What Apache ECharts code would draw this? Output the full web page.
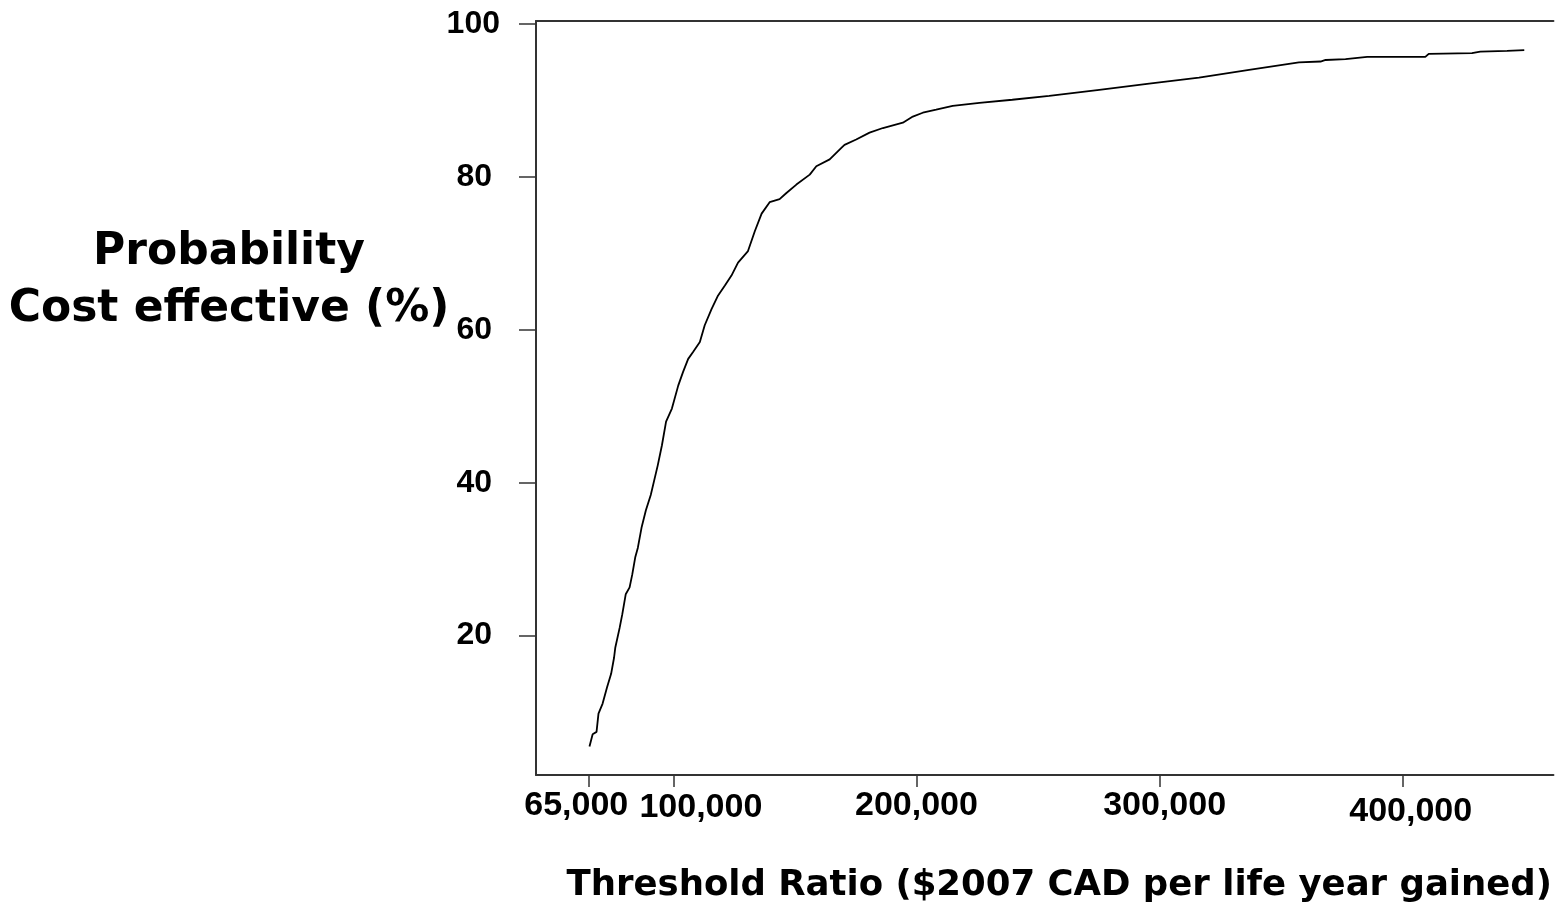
<!DOCTYPE html>
<html>
<head>
<meta charset="utf-8">
<script src="https://cdn.jsdelivr.net/npm/echarts@6/dist/echarts.min.js"></script>
<style>
  html, body { margin: 0; padding: 0; background: #ffffff; }
  #chart { width: 1555px; height: 909px; }
</style>
</head>
<body>
<div id="chart"></div>
<script>
// ---- data ----
const thresholds = [
  65500, 66800, 68400, 69200, 70900, 72700, 74400, 75600, 76100, 77900,
  79000, 80400, 82000, 83100, 84300, 85400, 86900, 88700, 90700, 93600,
  95300, 97000, 99400, 102000, 104000, 106100, 108100, 110900, 112900, 115700,
  118400, 121200, 123900, 126600, 130700, 133500, 136300, 139600, 143700, 146500,
  150600, 156100, 158800, 164300, 169100, 170400, 175200, 180700, 186200, 194400,
  198500, 202600, 208100, 214900, 225900, 239400, 254600, 275200, 295700, 316200,
  336800, 357300, 366200, 368300, 376500, 385400, 409300, 410700, 428500, 431900,
  442900, 443500, 450000
];
const probability = [
  5.5, 7.1, 7.4, 9.8, 11.1, 13.2, 15.0, 17.1, 18.4, 21.0,
  22.8, 25.4, 26.3, 28.0, 30.2, 31.5, 34.1, 36.4, 38.4, 42.3,
  44.9, 48.0, 49.7, 52.7, 54.5, 56.2, 57.1, 58.4, 60.6, 62.7,
  64.5, 65.8, 67.1, 68.8, 70.3, 72.9, 75.2, 76.7, 77.1, 77.9,
  79.0, 80.3, 81.4, 82.3, 83.8, 84.2, 84.9, 85.8, 86.4, 87.1,
  87.9, 88.4, 88.8, 89.3, 89.7, 90.1, 90.6, 91.4, 92.2, 93.0,
  94.0, 95.0, 95.1, 95.3, 95.4, 95.7, 95.7, 96.1, 96.2, 96.4,
  96.5, 96.6, 96.6
];
const xTickValues = [65000, 100000, 200000, 300000, 400000];
const xTickLabels = ['65,000', '100,000', '200,000', '300,000', '400,000'];
const yTickValues = [20, 40, 60, 80, 100];
const yTickLabels = ['20', '40', '60', '80', '100'];
const xTitle = 'Threshold Ratio ($2007 CAD per life year gained)';
const yTitle = 'Probability\nCost effective (%)';

// ---- chart ----
const seriesData = thresholds.map((t, i) => [t, probability[i]]);
const chart = echarts.init(document.getElementById('chart'), null, { renderer: 'canvas' });

const axisColor = '#333333';
const tickFont = '"Liberation Sans", Arial, sans-serif';

const xRich = {
  l0: { padding: [0, 24, 0, 0] },
  l1: { padding: [2, 0, 0, 55] },
  l2: { padding: [0, 0, 0, 0] },
  l3: { padding: [0, 0, 0, 10] },
  l4: { padding: [6, 0, 0, 16] }
};
Object.values(xRich).forEach(s => {
  s.fontFamily = tickFont; s.fontWeight = 'bold'; s.fontSize = 34; s.color = '#000';
});
const yRich = {
  n: { padding: [0, 8, 0, 0], fontFamily: tickFont, fontWeight: 'bold', fontSize: 32, color: '#000' },
  t: { padding: [0, 0, 0, 0], fontFamily: tickFont, fontWeight: 'bold', fontSize: 32, color: '#000' }
};

const option = {
  animation: false,
  backgroundColor: '#ffffff',
  grid: { left: 536, right: 0, top: 21, bottom: 131, containLabel: false },
  xAxis: [
    {
      type: 'value',
      min: 43500,
      max: 462000,
      position: 'bottom',
      name: xTitle,
      nameLocation: 'middle',
      nameGap: 93,
      nameTextStyle: {
        fontFamily: '"DejaVu Sans", Verdana, sans-serif',
        fontWeight: 'bold',
        fontSize: 35.5,
        color: '#000',
        padding: [0, 0, 0, 29]
      },
      axisLine: { show: true, lineStyle: { color: axisColor, width: 2 } },
      axisTick: { show: true, length: 12, lineStyle: { color: axisColor, width: 1.5 }, customValues: xTickValues },
      axisLabel: {
        margin: 14,
        customValues: xTickValues,
        formatter: function (v) {
          const i = xTickValues.indexOf(v);
          return i < 0 ? '' : '{l' + i + '|' + xTickLabels[i] + '}';
        },
        rich: xRich
      },
      splitLine: { show: false }
    },
    {
      type: 'value',
      min: 43500,
      max: 462000,
      position: 'top',
      axisLine: { show: true, lineStyle: { color: axisColor, width: 2 } },
      axisTick: { show: false },
      axisLabel: { show: false },
      splitLine: { show: false }
    }
  ],
  yAxis: {
    type: 'value',
    min: 1.76,
    max: 100.4,
    axisLine: { show: true, lineStyle: { color: axisColor, width: 2 } },
    axisTick: { show: true, length: 17, lineStyle: { color: axisColor, width: 1.5 }, customValues: yTickValues },
    axisLabel: {
      margin: 36,
      customValues: yTickValues,
      formatter: function (v) {
        const i = yTickValues.indexOf(v);
        if (i < 0) return '';
        return (v === 100 ? '{t|' : '{n|') + yTickLabels[i] + '}';
      },
      rich: yRich
    },
    splitLine: { show: false }
  },
  graphic: [
    {
      type: 'text',
      x: 229,
      y: 224,
      style: {
        text: yTitle,
        font: 'bold 44px "DejaVu Sans", Verdana, sans-serif',
        lineHeight: 57,
        align: 'center',
        verticalAlign: 'top',
        fill: '#000'
      }
    }
  ],
  series: [
    {
      type: 'line',
      xAxisIndex: 0,
      data: seriesData,
      showSymbol: false,
      symbol: 'none',
      lineStyle: { color: '#000000', width: 1.8 },
      silent: true
    }
  ]
};
chart.setOption(option);
</script>
</body>
</html>
